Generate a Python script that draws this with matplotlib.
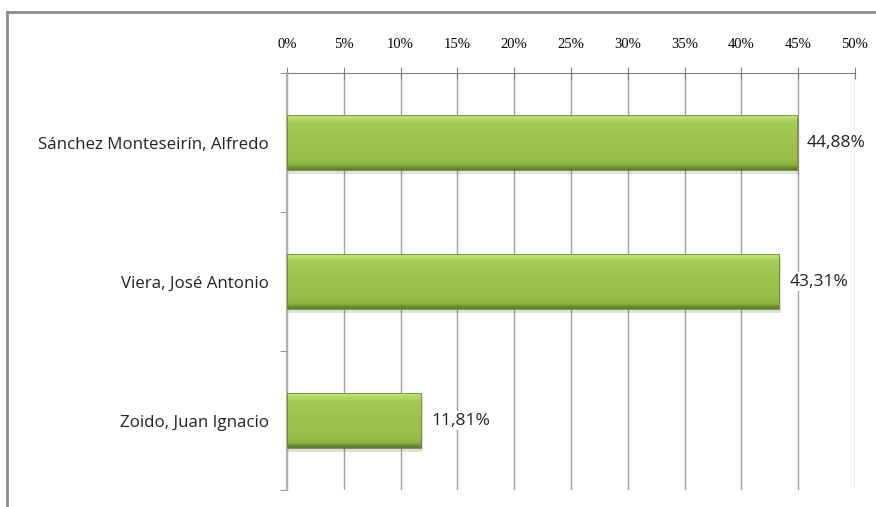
import numpy as np
import matplotlib
matplotlib.use("Agg")
import matplotlib.pyplot as plt
from matplotlib.colors import LinearSegmentedColormap
from matplotlib.patches import Rectangle

# datos
candidatos = ["Sánchez Monteseirín, Alfredo", "Viera, José Antonio", "Zoido, Juan Ignacio"]
porcentajes = [44.88, 43.31, 11.81]
etiquetas = ["44,88%", "43,31%", "11,81%"]
ticks_x = [0, 5, 10, 15, 20, 25, 30, 35, 40, 45, 50]

fig = plt.figure(figsize=(8.76, 5.07), dpi=100)
fig.patch.set_facecolor("white")

# marco gris del grafico (arriba e izquierda)
fig.add_artist(plt.Line2D([7/876, 7/876], [0, 1 - 12/507], color="#8c8c8c", lw=2))
fig.add_artist(plt.Line2D([7/876, 1], [1 - 12/507, 1 - 12/507], color="#8c8c8c", lw=2))

ax = fig.add_axes([287/876, 1 - 490/507, (855 - 287)/876, (490 - 73)/507])

# degradado para las barras (vertical, claro arriba, oscuro abajo)
cmap = LinearSegmentedColormap.from_list("verde", [
    (0.0, "#5f7f2a"), (0.05, "#6f9232"), (0.09, "#8db444"), (0.2, "#96be49"),
    (0.6, "#9dc54d"), (0.85, "#a5cd56"), (0.93, "#b6dc6c"), (1.0, "#c6ea80")])
grad = np.linspace(0, 1, 200).reshape(-1, 1)

n = len(candidatos)
alto = 0.4
for i, (v, lab) in enumerate(zip(porcentajes, etiquetas)):
    y = n - 1 - i
    # sombra
    ax.add_patch(Rectangle((0, y - alto/2 - 0.03), v + 0.15, alto, color="#000000",
                           alpha=0.12, lw=0, zorder=2))
    im = ax.imshow(grad, cmap=cmap, aspect="auto", origin="lower",
                   extent=(0, v, y - alto/2, y + alto/2), zorder=3)
    r = Rectangle((0, y - alto/2), v, alto, facecolor="none", edgecolor="#6a8c2e",
                  lw=0.6, zorder=4)
    ax.add_patch(r)
    im.set_clip_path(r)
    ax.text(v + 0.9, y, lab, va="center", ha="left", fontsize=12.5,
            family="Open Sans", color="#222222", zorder=5,
            bbox=dict(facecolor="white", edgecolor="none", pad=1))

ax.set_xlim(0, 50)
ax.set_ylim(-0.5, n - 0.5)
ax.set_xticks(ticks_x)
ax.set_xticklabels([f"{t}%" for t in ticks_x], family="Liberation Serif", fontsize=10.5)
ax.xaxis.tick_top()
ax.tick_params(axis="x", direction="inout", length=8, color="#808080", pad=12)
ax.set_yticks(range(n))
ax.set_yticklabels(candidatos[::-1], family="Open Sans", fontsize=12.2, color="#222222")
ax.tick_params(axis="y", length=0, pad=13)
ax.set_yticks([-0.5, 0.5, 1.5, 2.5], minor=True)
ax.tick_params(axis="y", which="minor", length=5, color="#808080", direction="out")

ax.grid(axis="x", color="#a0a0a0", lw=1, zorder=1)
ax.set_axisbelow(True)
for s in ["right", "bottom"]:
    ax.spines[s].set_visible(False)
ax.spines["top"].set_color("#808080")
ax.spines["left"].set_color("#b0b0b0")
ax.spines["left"].set_linewidth(1.5)

fig.savefig("out.png", dpi=100)
